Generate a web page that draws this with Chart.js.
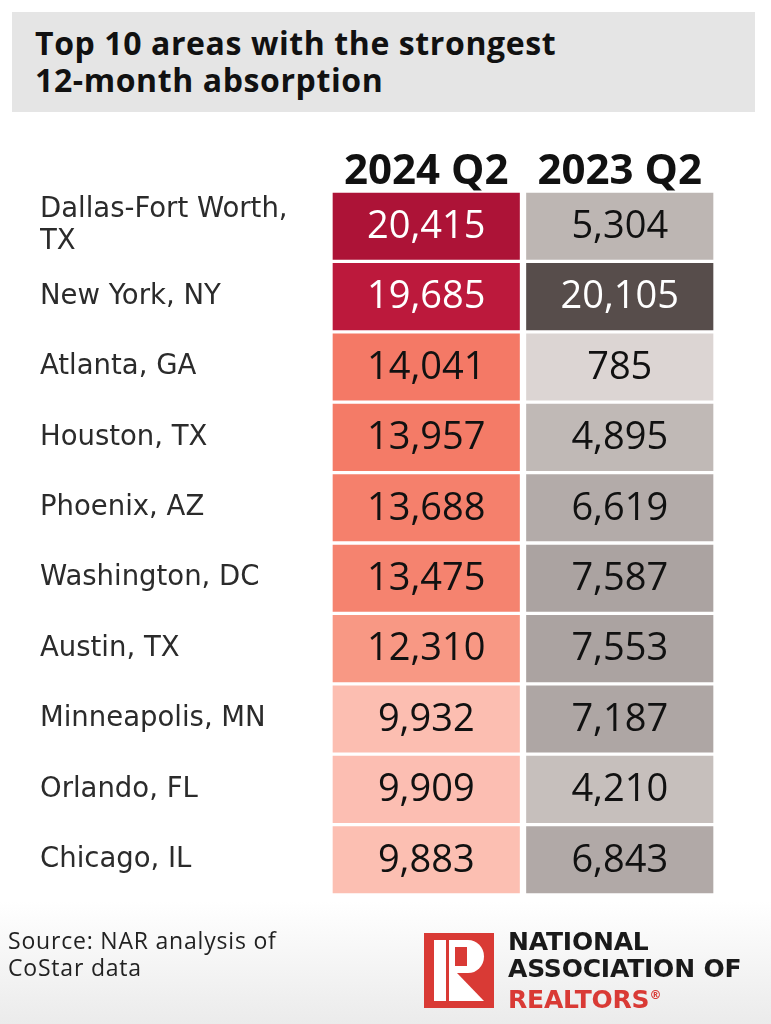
<!DOCTYPE html>
<html>
<head>
<meta charset="utf-8">
<script src="https://cdn.jsdelivr.net/npm/chart.js@4.4.1/dist/chart.umd.min.js"></script>
<style>
  html, body { margin: 0; padding: 0; }
  body {
    width: 771px; height: 1024px; position: relative; overflow: hidden;
    background: linear-gradient(#fff 0, #fff 88%, #ebebeb 100%);
    font-family: "Open Sans", sans-serif;
  }
  #chartWrap { position: absolute; left: 0; top: 0; width: 771px; height: 1024px; }
  .title { position: absolute; left: 12px; top: 12px; width: 743px; height: 100px; background: #e5e5e5; }
  .title h1 { margin: 0; position: absolute; left: 23px; top: 12px; font-size: 32px; line-height: 37px; font-weight: 700; color: #111; letter-spacing: 0.6px; }
  .source { position: absolute; left: 8px; top: 927px; font-size: 23px; line-height: 27px; color: #222; letter-spacing: 0.8px; }
  .logo { position: absolute; left: 424px; top: 933px; }
  .logo-text { position: absolute; left: 508px; top: 929px; font-family: "DejaVu Sans", sans-serif; font-size: 25px; line-height: 26.5px; font-weight: 700; color: #1a1a1a; letter-spacing: -0.2px; }
  .logo-text .red { color: #d93a35; }
</style>
</head>
<body>
<div id="chartWrap"><canvas id="absorptionChart"></canvas></div>
<div class="title"><h1>Top 10 areas with the strongest<br>12-month absorption</h1></div>
<div class="source">Source: NAR analysis of<br>CoStar data</div>
<svg class="logo" width="70" height="75" viewBox="0 0 70 75">
  <rect width="70" height="75" fill="#d93a35"/>
  <rect x="10" y="7" width="12" height="61" fill="#fff"/>
  <path d="M25 7 H44 A16 16.5 0 0 1 44 40 H25 Z" fill="#fff"/>
  <rect x="31" y="14" width="12" height="19" fill="#d93a35"/>
  <path d="M25 40 H33 L60 68 H25 Z" fill="#fff"/>
</svg>
<div class="logo-text">NATIONAL<br>ASSOCIATION OF<br><span class="red">REALTORS<sup style="font-size:12px">®</sup></span></div>

<script>
  const cities = [
    ["Dallas-Fort Worth,", "TX"],
    "New York, NY",
    "Atlanta, GA",
    "Houston, TX",
    "Phoenix, AZ",
    "Washington, DC",
    "Austin, TX",
    "Minneapolis, MN",
    "Orlando, FL",
    "Chicago, IL"
  ];
  const periods = ["2024 Q2", "2023 Q2"];
  const absorption2024 = [20415, 19685, 14041, 13957, 13688, 13475, 12310, 9932, 9909, 9883];
  const absorption2023 = [5304, 20105, 785, 4895, 6619, 7587, 7553, 7187, 4210, 6843];

  // colour ramps (value -> colour), one per column
  const redRamp = [[9800, "#fcc0b4"], [12300, "#f89884"], [14000, "#f47a66"], [19600, "#be1a3c"], [20500, "#ab1237"]];
  const greyRamp = [[700, "#ddd6d4"], [4200, "#c6bfbc"], [7600, "#aba3a1"], [20200, "#564c4a"]];

  function hexToRgb(h) {
    return [1, 3, 5].map(i => parseInt(h.substr(i, 2), 16));
  }
  function rampColor(ramp, v) {
    if (v <= ramp[0][0]) return hexToRgb(ramp[0][1]);
    for (let i = 1; i < ramp.length; i++) {
      if (v <= ramp[i][0]) {
        const t = (v - ramp[i - 1][0]) / (ramp[i][0] - ramp[i - 1][0]);
        const a = hexToRgb(ramp[i - 1][1]), b = hexToRgb(ramp[i][1]);
        return a.map((c, k) => Math.round(c + (b[k] - c) * t));
      }
    }
    return hexToRgb(ramp[ramp.length - 1][1]);
  }
  function cellColor(ramp, v) {
    const c = rampColor(ramp, v);
    return "rgb(" + c.join(",") + ")";
  }
  function textColor(ramp, v) {
    const c = rampColor(ramp, v);
    const lum = 0.299 * c[0] + 0.587 * c[1] + 0.114 * c[2];
    return lum < 120 ? "#ffffff" : "#111111";
  }

  const columns = [
    { values: absorption2024, ramp: redRamp },
    { values: absorption2023, ramp: greyRamp }
  ];

  // write the number in the middle of every cell
  const cellLabels = {
    id: "cellLabels",
    afterDatasetsDraw(chart) {
      const ctx = chart.ctx;
      ctx.save();
      ctx.font = "38px 'Open Sans'";
      ctx.textAlign = "center";
      ctx.textBaseline = "middle";
      chart.data.datasets.forEach((ds, di) => {
        const col = columns[di];
        chart.getDatasetMeta(di).data.forEach((bar, i) => {
          const p = bar.getCenterPoint();
          const v = col.values[i];
          ctx.fillStyle = textColor(col.ramp, v);
          ctx.fillText(v.toLocaleString("en-US"), p.x, p.y + 1);
        });
      });
      ctx.restore();
    }
  };

  new Chart(document.getElementById("absorptionChart"), {
    type: "bar",
    data: {
      labels: cities,
      datasets: columns.map((col, di) => ({
        label: periods[di],
        data: col.values.map(() => 1), // every cell is one column wide
        backgroundColor: ctx => cellColor(col.ramp, col.values[ctx.dataIndex]),
        borderColor: "#ffffff",
        borderWidth: { top: 2, bottom: 2, left: 3.5, right: 3.5 },
        borderSkipped: false,
        barPercentage: 1,
        categoryPercentage: 1
      }))
    },
    options: {
      indexAxis: "y",
      responsive: true,
      maintainAspectRatio: false,
      animation: false,
      layout: { padding: { left: 40, right: 54.5, top: 131, bottom: 129 } },
      plugins: { legend: { display: false }, tooltip: { enabled: false } },
      scales: {
        x: { stacked: true, min: 0, max: 2, display: false },
        xTop: {
          type: "category",
          labels: periods,
          position: "top",
          offset: true,
          grid: { display: false },
          border: { display: false },
          ticks: { color: "#111", padding: -14, font: { family: "Open Sans", size: 42, weight: "700" } },
          afterFit(scale) { scale.height = 60; }
        },
        y: {
          stacked: true,
          grid: { display: false },
          border: { display: false },
          ticks: { crossAlign: "far", padding: 0, color: "#2b2b2b", font: { family: "DejaVu Sans", size: 27.5, lineHeight: 1.17 } },
          afterFit(scale) { scale.width = 289.5; }
        }
      }
    },
    plugins: [cellLabels]
  });
</script>
</body>
</html>
